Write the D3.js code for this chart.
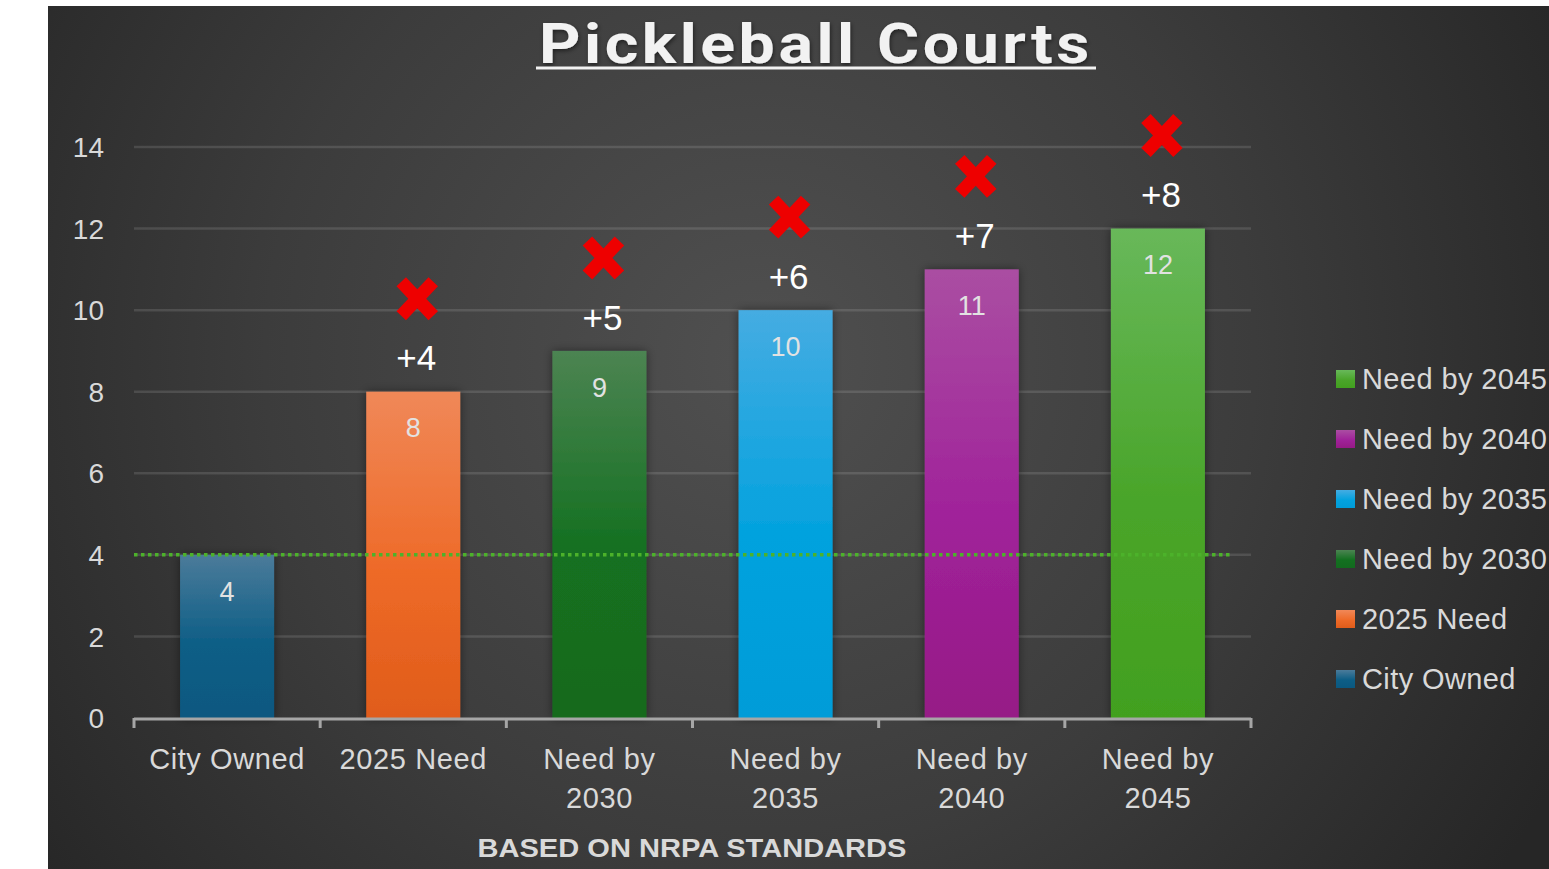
<!DOCTYPE html>
<html><head><meta charset="utf-8">
<script src="https://cdn.jsdelivr.net/npm/d3@7"></script>
<style>html,body{margin:0;padding:0;background:#fff;overflow:hidden}</style>
</head><body>
<svg id="chart" width="1549" height="869"></svg>
<script>
const categories = ["City Owned","2025 Need","Need by 2030","Need by 2035","Need by 2040","Need by 2045"];
const categoryLines = [["City Owned"],["2025 Need"],["Need by","2030"],["Need by","2035"],["Need by","2040"],["Need by","2045"]];
const values = [4, 8, 9, 10, 11, 12];
const yTicks = [0, 2, 4, 6, 8, 10, 12, 14];
const ownedLine = 4;
const colorsTop = ["#4b7b9a","#f08858","#4c8452","#45acE2","#aa4ea2","#68b85a"];
const colorsMid = ["#0d5e86","#ee6a28","#137020","#03a2de","#a0229a","#4aa52a"];
const colorsBot = ["#0a5880","#e05c1a","#126a1e","#009cd8","#961a86","#42a01f"];
const legendOrder = [5,4,3,2,1,0];
const title = "Pickleball Courts";
const subtitle = "BASED ON NRPA STANDARDS";

const svg = d3.select("#chart");
const defs = svg.append("defs");
const bg = defs.append("radialGradient").attr("id","bg").attr("gradientUnits","userSpaceOnUse")
  .attr("cx",760).attr("cy",360).attr("r",900);
bg.append("stop").attr("offset",0).attr("stop-color","#505050");
bg.append("stop").attr("offset",0.55).attr("stop-color","#3c3c3c");
bg.append("stop").attr("offset",1).attr("stop-color","#262626");
categories.forEach((c,i)=>{
  const g = defs.append("linearGradient").attr("id","bar"+i).attr("x1",0).attr("y1",0).attr("x2",0).attr("y2",1);
  g.append("stop").attr("offset",0).attr("stop-color",colorsTop[i]);
  g.append("stop").attr("offset",0.55).attr("stop-color",colorsMid[i]);
  g.append("stop").attr("offset",1).attr("stop-color",colorsBot[i]);
});
const sh = defs.append("filter").attr("id","shadow").attr("x","-20%").attr("y","-20%").attr("width","140%").attr("height","140%");
sh.append("feDropShadow").attr("dx",0).attr("dy",0).attr("stdDeviation",5).attr("flood-color","#000").attr("flood-opacity",0.45);
const tsh = defs.append("filter").attr("id","tshadow");
tsh.append("feDropShadow").attr("dx",1).attr("dy",2).attr("stdDeviation",2).attr("flood-color","#000").attr("flood-opacity",0.5);

svg.append("rect").attr("x",48).attr("y",6).attr("width",1501).attr("height",863).attr("fill","url(#bg)");

const x = d3.scaleBand().domain(categories).range([134,1251]).paddingInner(0.495).paddingOuter(0.2475);
const y = d3.scaleLinear().domain([0,14]).range([718,147]);
const font = "'Liberation Sans', Arial, sans-serif";

// gridlines
svg.append("g").selectAll("line").data(yTicks.filter(d=>d>0)).join("line")
  .attr("x1",134).attr("x2",1251).attr("y1",d=>y(d)).attr("y2",d=>y(d))
  .attr("stroke","rgba(255,255,255,0.12)").attr("stroke-width",2.5);

// y labels
svg.append("g").selectAll("text").data(yTicks).join("text")
  .attr("x",104).attr("y",d=>y(d)).attr("dy","0.36em").attr("text-anchor","end")
  .attr("font-family",font).attr("font-size",28).attr("fill","#d9d9d9").text(d=>d);

// bars
svg.append("g").selectAll("rect").data(values).join("rect")
  .attr("x",(d,i)=>x(categories[i])).attr("width",x.bandwidth())
  .attr("y",d=>y(d)).attr("height",d=>y(0)-y(d))
  .attr("fill",(d,i)=>`url(#bar${i})`).attr("filter","url(#shadow)");

// owned dotted line
svg.append("line").attr("x1",134).attr("x2",1232).attr("y1",y(ownedLine)).attr("y2",y(ownedLine))
  .attr("stroke","#4cb22a").attr("stroke-width",3.5).attr("stroke-dasharray","3.5,3.5");

// axis
const xAxisG = svg.append("g").attr("transform",`translate(0,${y(0)})`);
xAxisG.append("line").attr("x1",134).attr("x2",1251).attr("y1",1).attr("y2",1).attr("stroke","#a6a6a6").attr("stroke-width",3);
const bounds = d3.range(categories.length+1).map(i=>134 + i*(1117/categories.length));
xAxisG.selectAll("line.tk").data(bounds).join("line").attr("class","tk")
  .attr("x1",d=>d).attr("x2",d=>d).attr("y1",0).attr("y2",10).attr("stroke","#a6a6a6").attr("stroke-width",3);

// category labels
const cl = svg.append("g").selectAll("text").data(categoryLines).join("text")
  .attr("font-family",font).attr("font-size",29).attr("fill","#d9d9d9").attr("text-anchor","middle")
  .attr("letter-spacing",0.6);
cl.selectAll("tspan").data((d,i)=>d.map(t=>({t,i}))).join("tspan")
  .attr("x",d=>x(categories[d.i])+x.bandwidth()/2).attr("y",(d,j)=>769+j*39).text(d=>d.t);

// value labels inside bars
svg.append("g").selectAll("text").data(values).join("text")
  .attr("x",(d,i)=>x(categories[i])+x.bandwidth()/2).attr("y",d=>y(d)+36).attr("dy","0.36em")
  .attr("text-anchor","middle").attr("font-family",font).attr("font-size",27).attr("fill","#e2e2e2").text(d=>d);

// gap labels and X marks
const gaps = values.map((v,i)=>({v,i})).filter(d=>d.i>0);
svg.append("g").selectAll("text").data(gaps).join("text")
  .attr("x",d=>x(categories[d.i])+x.bandwidth()/2+3).attr("y",d=>y(d.v)-34).attr("dy","0.36em")
  .attr("text-anchor","middle").attr("font-family",font).attr("font-size",35).attr("fill","#ffffff")
  .text(d=>"+"+(d.v-values[0]));
const xm = svg.append("g").selectAll("g").data(gaps).join("g")
  .attr("transform",d=>`translate(${x(categories[d.i])+x.bandwidth()/2+4},${y(d.v)-93})`);
xm.append("line").attr("x1",-16).attr("y1",-17).attr("x2",16).attr("y2",17).attr("stroke","#ee0000").attr("stroke-width",13);
xm.append("line").attr("x1",-16).attr("y1",17).attr("x2",16).attr("y2",-17).attr("stroke","#ee0000").attr("stroke-width",13);

// legend
const lg = svg.append("g").selectAll("g").data(legendOrder).join("g")
  .attr("transform",(d,k)=>`translate(1336,${379+k*60})`);
lg.append("rect").attr("x",0).attr("y",-9).attr("width",19).attr("height",18).attr("fill",d=>`url(#bar${d})`);
lg.append("text").attr("x",26).attr("y",0).attr("dy","0.36em").attr("font-family",font).attr("font-size",29)
  .attr("fill","#d9d9d9").attr("letter-spacing",0.4).text(d=>categories[d]);

// title
svg.append("text").attr("x",816).attr("y",63).attr("text-anchor","middle")
  .attr("font-family","Roboto, 'Liberation Sans', sans-serif").attr("font-weight","bold").attr("font-size",55)
  .attr("letter-spacing",3)
  .attr("fill","#f2f2f2").attr("textLength",554).attr("lengthAdjust","spacingAndGlyphs")
  .attr("filter","url(#tshadow)").text(title);
svg.append("line").attr("x1",536).attr("x2",1096).attr("y1",68).attr("y2",68).attr("stroke","#f2f2f2").attr("stroke-width",3);

// subtitle
svg.append("text").attr("x",692).attr("y",857).attr("text-anchor","middle")
  .attr("font-family",font).attr("font-weight","bold").attr("font-size",26)
  .attr("fill","#d9d9d9").attr("textLength",429).attr("lengthAdjust","spacingAndGlyphs").text(subtitle);
</script>
</body></html>
